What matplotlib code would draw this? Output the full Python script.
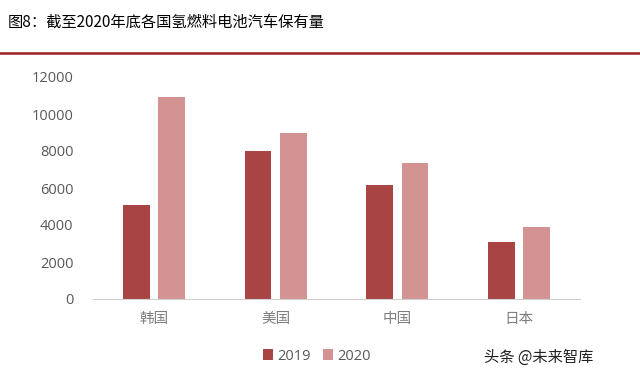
import matplotlib.pyplot as plt
import numpy as np

plt.rcParams['font.family'] = ['Noto Sans CJK SC', 'DejaVu Sans']

# data
countries = ['韩国', '美国', '中国', '日本']
years = ['2019', '2020']
stock_2019 = [5100, 8000, 6150, 3100]
stock_2020 = [10900, 8950, 7350, 3900]
yticks = [0, 2000, 4000, 6000, 8000, 10000, 12000]

c2019 = '#A84544'
c2020 = '#D39392'

fig = plt.figure(figsize=(6.4, 3.71), dpi=100)
ax = fig.add_axes([93/640, 1-299/371, (580-93)/640, (299-77)/371])

x = np.arange(len(countries))
w = 0.22
b1 = ax.bar(x - 0.145, stock_2019, w, color=c2019, label=years[0])
b2 = ax.bar(x + 0.145, stock_2020, w, color=c2020, label=years[1])

ax.set_xlim(-0.5, len(countries) - 0.5)
ax.set_ylim(0, 12000)
ax.set_yticks(yticks)
ax.set_yticklabels([str(v) for v in yticks], fontsize=10.5, color='#595959',
                   family=['Open Sans', 'DejaVu Sans'])
ax.set_xticks(x)
ax.set_xticklabels(countries, fontsize=10.5, color='#7f7f7f')
ax.tick_params(axis='both', length=0)
ax.tick_params(axis='y', pad=14)
ax.tick_params(axis='x', pad=9)
for s in ['top', 'right', 'left']:
    ax.spines[s].set_visible(False)
ax.spines['bottom'].set_color('#d0d0d0')

leg = fig.legend(handles=[b1, b2], loc='center', bbox_to_anchor=(317/640, 1-356/371),
                 ncol=2, frameon=False, handlelength=0.7, handleheight=0.7,
                 columnspacing=0.8, handletextpad=0.3,
                 prop={'family': ['Open Sans', 'DejaVu Sans'], 'size': 10.5})
for t in leg.get_texts():
    t.set_color('#595959')

# title and red rule
fig.text(8/640, 1-22/371, '图8：截至2020年底各国氢燃料电池汽车保有量', fontsize=11,
         va='center', ha='left', color='#000000')
fig.add_artist(plt.Line2D([0, 1], [1-53/371, 1-53/371], color='#9B1F24', lw=1.8,
                          transform=fig.transFigure))
fig.text(593/640, 1-357/371, '头条 @未来智库', fontsize=11, va='center', ha='right',
         color='#222222')

fig.savefig('out.png', dpi=100)
